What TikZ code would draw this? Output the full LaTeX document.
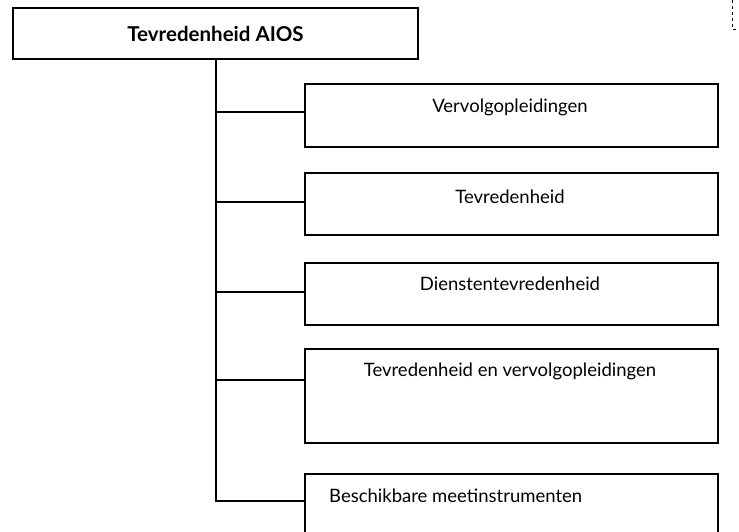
\documentclass[tikz,border=0pt]{standalone}
\usepackage{fontspec}
\setmainfont{Lato}
\begin{document}
\begin{tikzpicture}[x=1pt,y=-1pt,
  topbox/.style={draw,line width=2.4pt,minimum width=405pt,minimum height=51pt,inner sep=0pt,font=\fontsize{20.5}{24}\selectfont\bfseries},
  childbox/.style={draw,line width=1.6pt,minimum width=413pt,inner sep=0pt,anchor=north west},
  childtext/.style={font=\fontsize{18.5}{22}\selectfont,inner sep=0pt},
  conn/.style={line width=1.5pt}]
\useasboundingbox (0,0) rectangle (739,531);
\node[topbox] (top) at (215.5,33.5) {Tevredenheid AIOS};
\node[childbox,minimum height=63pt] (c1) at (304,83) {};
\node[childbox,minimum height=62pt] (c2) at (304,172) {};
\node[childbox,minimum height=62pt] (c3) at (304,262) {};
\node[childbox,minimum height=94pt] (c4) at (304,348) {};
\node[childbox,minimum height=70pt] (c5) at (304,473) {};
\node[childtext] (t1) at (510,107) {Vervolgopleidingen};
\node[childtext] (t2) at (510,197) {Tevredenheid};
\node[childtext] (t3) at (510,284) {Dienstentevredenheid};
\node[childtext] (t4) at (510,371) {Tevredenheid en vervolgopleidingen};
\node[childtext,anchor=west] (t5) at (329,496) {Beschikbare meetinstrumenten};
\coordinate (trunk) at (216,0);
\draw[conn] (top.south -| trunk) -- (216,501) -- (c5.west |- 0,501);
\draw[conn] (216,112) -- (c1.west |- 0,112);
\draw[conn] (216,202) -- (c2.west |- 0,202);
\draw[conn] (216,292) -- (c3.west |- 0,292);
\draw[conn] (216,380) -- (c4.west |- 0,380);
\coordinate (d1) at (732,0);
\coordinate (d2) at (732,29);
\coordinate (d3) at (737,29);
\draw[line width=1pt,dashed] (d1) -- (d2) -- (d3);
\end{tikzpicture}
\end{document}
